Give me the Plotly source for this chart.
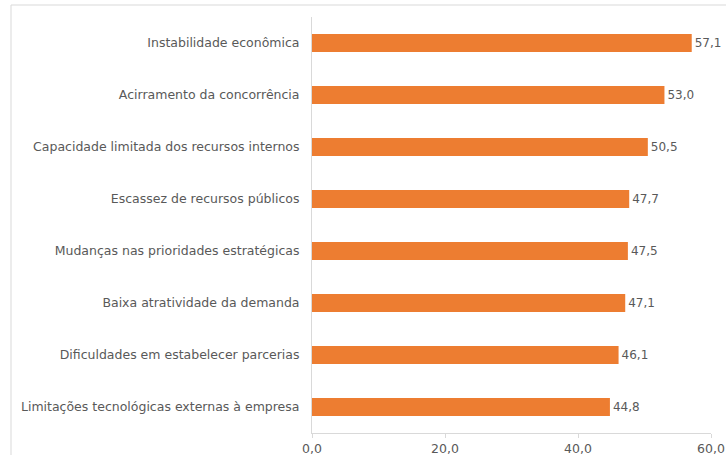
import plotly.graph_objects as go

categories = [
    "Instabilidade econômica",
    "Acirramento da concorrência",
    "Capacidade limitada dos recursos internos",
    "Escassez de recursos públicos",
    "Mudanças nas prioridades estratégicas",
    "Baixa atratividade da demanda",
    "Dificuldades em estabelecer parcerias",
    "Limitações tecnológicas externas à empresa",
]
values = [57.1, 53.0, 50.5, 47.7, 47.5, 47.1, 46.1, 44.8]
tick_vals = [0, 20, 40, 60]

W, H = 726, 455
L, R, T, B = 312, 15, 17, 22
pw, ph = W - L - R, H - T - B
FONT = "DejaVu Sans, Liberation Sans, Arial"

fig = go.Figure(go.Bar(
    x=values, y=categories, orientation="h",
    marker=dict(color="#ED7D31", line=dict(width=0)),
    width=0.35,
    text=[f"{v:.1f}".replace(".", ",") for v in values],
    textposition="outside",
    textfont=dict(color="#595959", size=12, family=FONT),
    cliponaxis=False,
))

fig.update_layout(
    width=W, height=H,
    margin=dict(l=L, r=R, t=T, b=B, autoexpand=False),
    plot_bgcolor="white", paper_bgcolor="white",
    separators=",.",
    showlegend=False,
    font=dict(family=FONT, size=12, color="#595959"),
    xaxis=dict(
        range=[0, 60], tickvals=tick_vals, tickformat=".1f",
        showgrid=False, zeroline=False, automargin=False,
        showline=True, linecolor="#D9D9D9", linewidth=1,
        ticks="outside", tickcolor="#D9D9D9", ticklen=4,
        tickfont=dict(size=12.5, color="#595959"),
    ),
    yaxis=dict(
        autorange="reversed", automargin=False,
        showgrid=False, zeroline=False,
        showline=True, linecolor="#D9D9D9", linewidth=1,
        ticks="", ticklabelstandoff=9,
        tickfont=dict(size=12.5, color="#595959"),
    ),
    shapes=[dict(
        type="rect", xref="paper", yref="paper",
        x0=(11 - L) / pw, x1=1.2,
        y0=-0.2, y1=1 + (T - 5) / ph,
        line=dict(color="#D9D9D9", width=1), fillcolor="rgba(0,0,0,0)",
        layer="below",
    )],
)

fig.write_html(
    "out.html",
    config={"displayModeBar": False},
    post_script="document.body.style.margin='0';document.body.style.overflow='hidden';",
)
